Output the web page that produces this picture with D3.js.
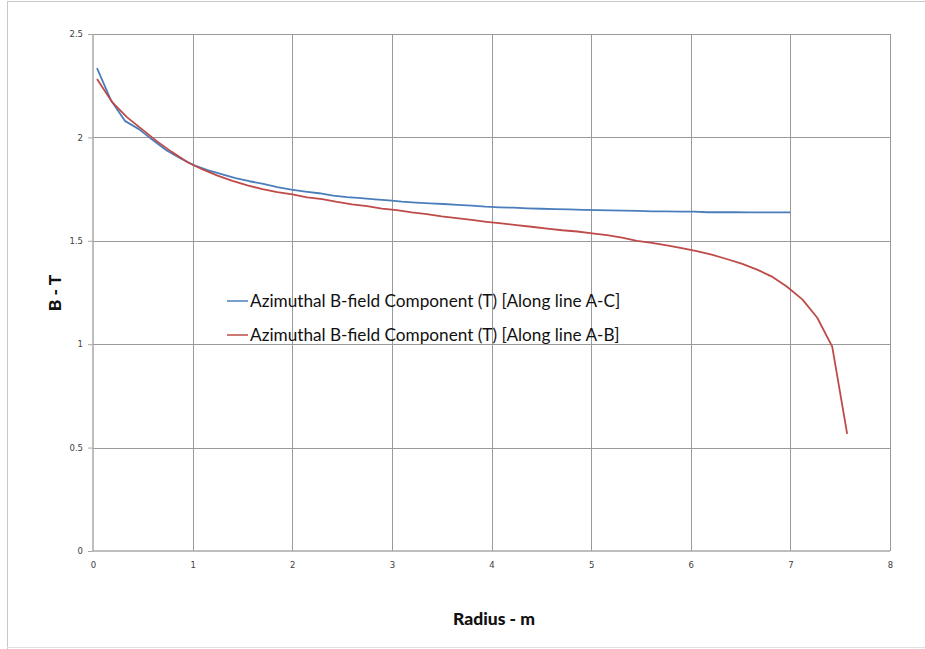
<!DOCTYPE html>
<html><head><meta charset="utf-8">
<script src="https://cdn.jsdelivr.net/npm/d3@7"></script>
<style>body{margin:0;background:#fff}svg{display:block}</style>
</head><body>
<svg id="c" width="925" height="649"></svg>
<script>
// ---- data ----
const seriesNames = ["Azimuthal B-field Component (T) [Along line A-C]", "Azimuthal B-field Component (T) [Along line A-B]"];
const xTicks = [0,1,2,3,4,5,6,7,8];
const yTicks = [0,0.5,1,1.5,2,2.5];
const acRadius = [0.04,0.18,0.32,0.46,0.60,0.74,0.88,1.01,1.15,1.29,1.43,1.57,1.71,1.85,1.99,2.13,2.27,2.41,2.55,2.69,2.83,2.97,3.10,3.24,3.38,3.52,3.66,3.80,3.94,4.08,4.22,4.36,4.50,4.64,4.78,4.92,5.06,5.19,5.33,5.47,5.61,5.75,5.89,6.03,6.17,6.31,6.45,6.59,6.73,6.87,7.00];
const acB = [2.335,2.18,2.08,2.04,1.987,1.937,1.898,1.866,1.842,1.822,1.803,1.788,1.775,1.760,1.747,1.738,1.730,1.718,1.711,1.706,1.700,1.695,1.689,1.685,1.681,1.678,1.674,1.670,1.665,1.662,1.660,1.657,1.655,1.653,1.652,1.650,1.648,1.647,1.646,1.645,1.642,1.642,1.641,1.641,1.638,1.638,1.638,1.637,1.637,1.637,1.637];
const abRadius = [0.04,0.19,0.34,0.49,0.64,0.79,0.95,1.10,1.25,1.40,1.55,1.70,1.85,2.00,2.15,2.30,2.45,2.60,2.75,2.90,3.05,3.20,3.35,3.50,3.65,3.80,3.95,4.10,4.25,4.40,4.56,4.71,4.86,5.01,5.16,5.31,5.46,5.61,5.76,5.91,6.06,6.21,6.36,6.51,6.66,6.81,6.96,7.12,7.27,7.42,7.57];
const abB = [2.282,2.172,2.098,2.040,1.982,1.930,1.880,1.845,1.815,1.790,1.768,1.750,1.735,1.725,1.710,1.702,1.688,1.676,1.668,1.656,1.648,1.637,1.629,1.618,1.610,1.601,1.592,1.584,1.576,1.568,1.559,1.551,1.545,1.536,1.527,1.515,1.500,1.490,1.478,1.465,1.450,1.433,1.412,1.390,1.362,1.328,1.280,1.217,1.128,0.988,0.566];
const colors = ["#4a7ebb", "#be4b48"];

// ---- layout ----
const svg = d3.select("#c");
const L = 93, R = 890, T = 34, B = 551;
const x = d3.scaleLinear().domain([0,8]).range([L,R]);
const y = d3.scaleLinear().domain([0,2.5]).range([B,T]);

// outer frame (sheet border)
svg.append("line").attr("x1",7.5).attr("x2",7.5).attr("y1",1).attr("y2",649).attr("stroke","#c8c8c8");
svg.append("line").attr("x1",7).attr("x2",925).attr("y1",1.5).attr("y2",1.5).attr("stroke","#c8c8c8");
svg.append("line").attr("x1",7).attr("x2",925).attr("y1",647.5).attr("y2",647.5).attr("stroke","#e0e0e0");

// gridlines
const g = svg.append("g");
g.selectAll(".gx").data(xTicks.filter(d=>d>0)).join("line")
  .attr("x1",d=>Math.round(x(d))+0.5).attr("x2",d=>Math.round(x(d))+0.5)
  .attr("y1",T).attr("y2",B).attr("stroke","#9a9a9a").attr("stroke-width",1);
g.selectAll(".gy").data(yTicks.filter(d=>d>0)).join("line")
  .attr("y1",d=>Math.round(y(d))+0.5).attr("y2",d=>Math.round(y(d))+0.5)
  .attr("x1",L).attr("x2",R).attr("stroke","#9a9a9a").attr("stroke-width",1);

// axes
const yAxis = d3.axisLeft(y).tickValues(yTicks).tickSize(5).tickPadding(5).tickFormat(d=>d3.format("")(d));
const yg = svg.append("g").attr("transform",`translate(${L},0)`).call(yAxis);
const xAxis = d3.axisBottom(x).tickValues(xTicks).tickSize(0).tickPadding(11).tickFormat(d3.format("d"));
const xg = svg.append("g").attr("transform",`translate(0,${B})`).call(xAxis);
[yg,xg].forEach(a=>{
  a.select(".domain").attr("stroke","#a8a8a8").attr("stroke-width",1.5);
  a.selectAll(".tick line").attr("stroke","#a8a8a8");
  a.selectAll("text").attr("font-family","DejaVu Sans, sans-serif").attr("font-size",8.5).attr("fill","#404040");
});
yg.select(".domain").attr("d",`M0,${B}V${T}`);
xg.select(".domain").attr("d",`M${L},0H${R}`);

// lines
const line = d3.line().x(d=>x(d[0])).y(d=>y(d[1]));
const series = [d3.zip(acRadius, acB), d3.zip(abRadius, abB)];
svg.selectAll(".s").data(series).join("path")
  .attr("d",line).attr("fill","none")
  .attr("stroke",(d,i)=>colors[i]).attr("stroke-width",1.8).attr("stroke-linejoin","round");

// axis titles
svg.append("text").attr("x",494).attr("y",625).attr("text-anchor","middle")
  .attr("font-family","Lato, sans-serif").attr("font-weight","900").attr("font-size",17.5).attr("fill","#111")
  .text("Radius - m");
svg.append("text").attr("transform","translate(61,293) rotate(-90)").attr("text-anchor","middle")
  .attr("font-family","Lato, sans-serif").attr("font-weight","900").attr("font-size",17.5).attr("fill","#111")
  .text("B - T");

// legend
const leg = svg.append("g");
const legY = [301, 335];
seriesNames.forEach((n,i)=>{
  leg.append("line").attr("x1",227).attr("x2",248).attr("y1",legY[i]).attr("y2",legY[i])
    .attr("stroke",colors[i]).attr("stroke-width",1.5);
  leg.append("text").attr("x",250).attr("y",legY[i]+6)
    .attr("font-family","Lato, sans-serif").attr("font-size",17.2).attr("fill","#111").text(n);
});
</script>
</body></html>
